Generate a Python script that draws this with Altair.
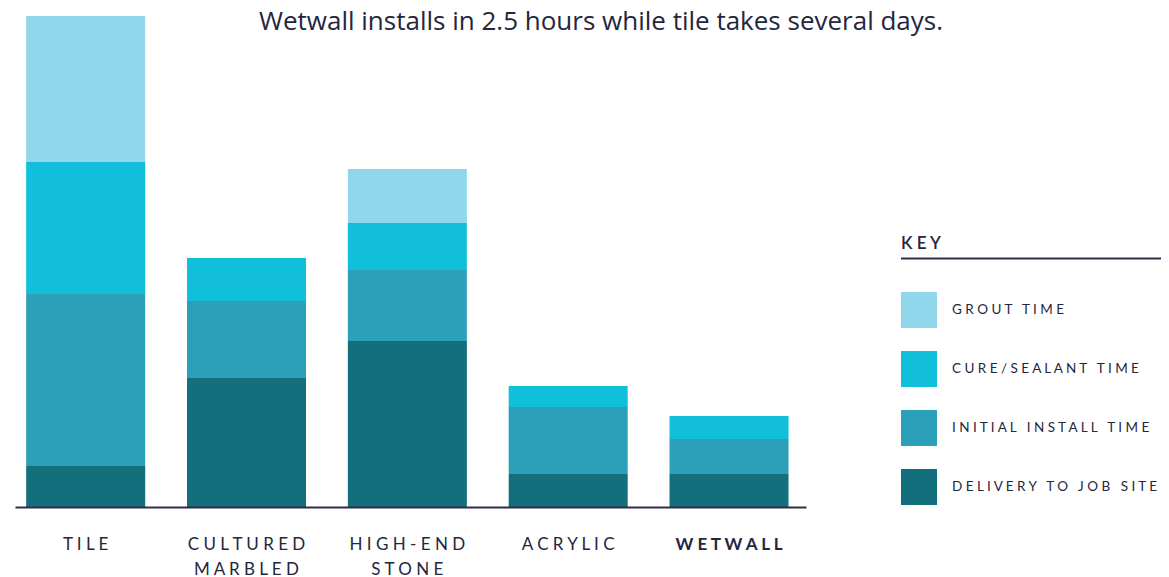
import altair as alt
import pandas as pd

# ---- data ----
cat_ids = ["TILE", "CULTURED MARBLED", "HIGH-END STONE", "ACRYLIC", "WETWALL"]
cat_labels = ["TILE", "CULTURED\nMARBLED", "HIGH-END\nSTONE", "ACRYLIC", "WETWALL"]
cat_bold = [False, False, False, False, True]

series = ["GROUT TIME", "CURE/SEALANT TIME", "INITIAL INSTALL TIME", "DELIVERY TO JOB SITE"]
colors = ["#90D7EB", "#12BFDB", "#2CA0B9", "#146F7C"]

delivery = [41, 129, 166, 33, 33]
install = [172, 77, 71, 67, 35]
cure = [132, 43, 47, 21, 23]
grout = [146, 0, 54, 0, 0]

title_text = "Wetwall installs in 2.5 hours while tile takes several days."
key_text = "KEY"

TEXT_COLOR = "#24263e"
LINE_COLOR = "#2d2f45"
FONT = "Lato"
NB = "\u00a0"


def spaced(s, word_gap=3):
    """Emulate letter spacing (Vega has none) with no-break spaces."""
    lines = []
    for line in s.split("\n"):
        words = [NB.join(list(w)) for w in line.split(" ")]
        lines.append((NB * word_gap).join(words))
    return "\n".join(lines)


# ---- build tables ----
rows = []
stack_vals = [("DELIVERY TO JOB SITE", delivery), ("INITIAL INSTALL TIME", install),
              ("CURE/SEALANT TIME", cure), ("GROUT TIME", grout)]
for i, cat in enumerate(cat_ids):
    for k, (s, vals) in enumerate(stack_vals):
        if vals[i] > 0:
            rows.append({"cat": cat, "series": s, "hours": vals[i], "k": k})
df = pd.DataFrame(rows)

labels_df = pd.DataFrame({"cat": cat_ids, "label": [spaced(l) for l in cat_labels],
                          "bold": cat_bold})
legend_df = pd.DataFrame({"series": series, "label": [spaced(s, 3) for s in series]})

W, H = 791, 491
x_scale = alt.Scale(domain=cat_ids, paddingInner=0.26, paddingOuter=0.089, align=0.39)
y_scale = alt.Scale(domain=[0, 491], nice=False)
color_scale = alt.Scale(domain=series, range=colors)

bars = alt.Chart(df).mark_bar().encode(
    x=alt.X("cat:N", scale=x_scale, sort=cat_ids,
            axis=alt.Axis(title=None, labels=False, ticks=False, domainColor=LINE_COLOR,
                          domainWidth=2, zindex=1)),
    y=alt.Y("hours:Q", scale=y_scale, axis=None, stack="zero"),
    color=alt.Color("series:N", scale=color_scale, legend=None),
    order=alt.Order("k:Q"),
)


def label_layer(bold):
    return alt.Chart(labels_df).transform_filter(
        alt.datum.bold if bold else ~alt.datum.bold
    ).mark_text(
        baseline="top", align="center", dy=30, fontSize=17,
        font=FONT, color=TEXT_COLOR, lineBreak="\n", lineHeight=25,
        fontWeight="bold" if bold else "normal",
    ).encode(
        x=alt.X("cat:N", scale=x_scale, sort=cat_ids),
        y=alt.datum(0),
        text="label:N",
    )


title_mark = alt.Chart(pd.DataFrame({"t": [title_text]})).mark_text(
    align="center", baseline="alphabetic", fontSize=26, font="Open Sans",
    fontWeight="normal", color=TEXT_COLOR,
).encode(x=alt.value(586), y=alt.value(14), text="t:N")

main = alt.layer(bars, label_layer(False), label_layer(True), title_mark)

# ---- custom key ----
leg_y = alt.Scale(type="point", domain=series, range=[294, 471], padding=0)
squares = alt.Chart(legend_df).mark_square(size=1296, opacity=1).encode(
    x=alt.value(904),
    y=alt.Y("series:N", scale=leg_y, axis=None, sort=series),
    color=alt.Color("series:N", scale=color_scale, legend=None),
)
leg_text = alt.Chart(legend_df).mark_text(
    align="left", baseline="middle", fontSize=13.5, font=FONT, color=TEXT_COLOR,
).encode(
    x=alt.value(937),
    y=alt.Y("series:N", scale=leg_y, axis=None, sort=series),
    text="label:N",
)
key_title = alt.Chart(pd.DataFrame({"t": [spaced(key_text)]})).mark_text(
    align="left", baseline="alphabetic", fontSize=17, font=FONT,
    fontWeight=600, color=TEXT_COLOR,
).encode(x=alt.value(886), y=alt.value(233), text="t:N")
key_rule = alt.Chart(pd.DataFrame({"a": [0]})).mark_rule(
    strokeWidth=2, color=LINE_COLOR
).encode(x=alt.value(886), x2=alt.value(1146), y=alt.value(242.5))

legend = alt.layer(key_rule, key_title, squares, leg_text)

chart = alt.layer(main, legend).resolve_scale(y="independent").properties(
    width=W, height=H,
    autosize=alt.AutoSizeParams(type="none"),
    padding={"left": 7, "top": 8, "right": 355, "bottom": 80},
    background="white",
).configure_view(stroke=None)

chart.save("out.html", embed_options={"renderer": "svg", "actions": False})
